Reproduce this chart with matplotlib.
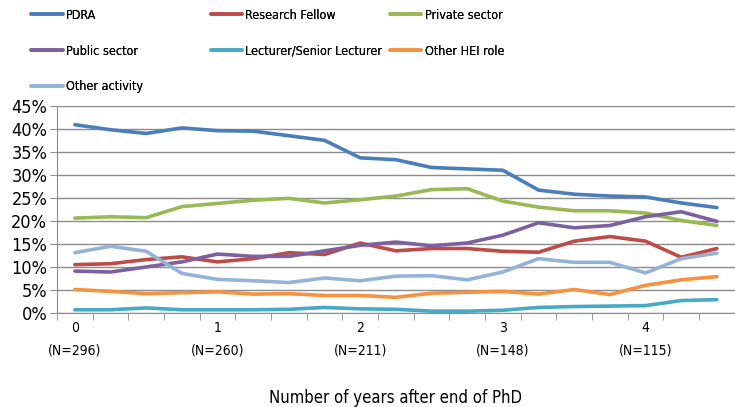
import os
import numpy as np
import matplotlib.pyplot as plt
from matplotlib.font_manager import FontProperties

COND = '/usr/share/fonts/truetype/dejavu/DejaVuSansCondensed.ttf'


def fp(size):
    if os.path.exists(COND):
        return FontProperties(fname=COND, size=size)
    return FontProperties(family='DejaVu Sans', size=size)


# years after end of PhD, quarterly
years = np.arange(19) * 0.25
year_labels = ['0\n(N=296)', '1\n(N=260)', '2\n(N=211)', '3\n(N=148)', '4\n(N=115)']

pdra = [40.9, 39.8, 39.0, 40.2, 39.6, 39.5, 38.5, 37.5, 33.7, 33.3, 31.6, 31.3, 31.0, 26.7, 25.8, 25.4, 25.2, 23.9, 22.9]
research_fellow = [10.5, 10.7, 11.6, 12.2, 11.1, 11.8, 13.1, 12.7, 15.2, 13.5, 14.0, 14.0, 13.4, 13.2, 15.6, 16.6, 15.6, 12.1, 14.0]
private_sector = [20.6, 20.9, 20.7, 23.1, 23.8, 24.5, 24.9, 23.9, 24.6, 25.4, 26.8, 27.0, 24.3, 23.0, 22.2, 22.2, 21.7, 20.1, 19.0]
public_sector = [9.1, 8.9, 10.0, 11.1, 12.8, 12.3, 12.3, 13.5, 14.7, 15.4, 14.6, 15.2, 16.9, 19.6, 18.5, 19.0, 20.9, 22.0, 19.9]
lecturer = [0.7, 0.7, 1.1, 0.7, 0.7, 0.7, 0.8, 1.2, 0.9, 0.8, 0.4, 0.4, 0.6, 1.2, 1.4, 1.5, 1.6, 2.7, 2.9]
other_hei = [5.1, 4.7, 4.2, 4.4, 4.6, 4.1, 4.2, 3.8, 3.8, 3.4, 4.3, 4.5, 4.7, 4.1, 5.1, 4.0, 6.0, 7.2, 7.9]
other_activity = [13.1, 14.5, 13.4, 8.6, 7.3, 7.0, 6.6, 7.6, 7.0, 8.0, 8.1, 7.2, 8.9, 11.8, 11.0, 11.0, 8.7, 11.8, 13.0]

series = [
    ('PDRA', pdra, '#4A7EBB'),
    ('Research Fellow', research_fellow, '#BE4B48'),
    ('Private sector', private_sector, '#98B954'),
    ('Public sector', public_sector, '#7D60A0'),
    ('Lecturer/Senior Lecturer', lecturer, '#46AAC5'),
    ('Other HEI role', other_hei, '#F69240'),
    ('Other activity', other_activity, '#95B3D7'),
]

fig = plt.figure(figsize=(7.35, 4.07), dpi=100)
ax = fig.add_axes([0.0776, 0.231, 0.922, 0.509])

handles = {}
for name, vals, col in series:
    ln, = ax.plot(years, vals, color=col, lw=2.6, solid_capstyle='round', label=name)
    handles[name] = ln

ax.set_xlim(-0.125, 4.625)
ax.set_ylim(0, 45)
ax.set_yticks(np.arange(0, 46, 5))
ax.set_yticklabels([f'{v}%' for v in range(0, 46, 5)], fontproperties=fp(13))
ax.yaxis.grid(True, color='#8c8c8c', lw=1)
ax.set_axisbelow(True)

ax.set_xticks(np.arange(5))
ax.set_xticklabels(year_labels, fontproperties=fp(10), linespacing=1.7)
ax.set_xticks(np.arange(20) * 0.25 - 0.125, minor=True)
ax.tick_params(axis='x', which='major', length=0, pad=6)
ax.tick_params(axis='x', which='minor', length=5, color='#8c8c8c', direction='out')
ax.tick_params(axis='y', length=5, color='#8c8c8c', pad=2)

for s in ['top', 'right']:
    ax.spines[s].set_visible(False)
for s in ['left', 'bottom']:
    ax.spines[s].set_color('#8c8c8c')

ax.set_xlabel('Number of years after end of PhD', fontproperties=fp(12), labelpad=23)

# legend in three columns
cols = [['PDRA', 'Public sector', 'Other activity'],
        ['Research Fellow', 'Lecturer/Senior Lecturer'],
        ['Private sector', 'Other HEI role']]
xs = [0.036, 0.280, 0.524]
for names, x in zip(cols, xs):
    leg = fig.legend([handles[n] for n in names], names, loc='upper left',
                     bbox_to_anchor=(x, 0.991), frameon=False, prop=fp(9),
                     handlelength=2.5, handletextpad=0.25, labelspacing=1.83,
                     borderaxespad=0)
    fig.add_artist(leg)

fig.savefig('out.png', dpi=100)
